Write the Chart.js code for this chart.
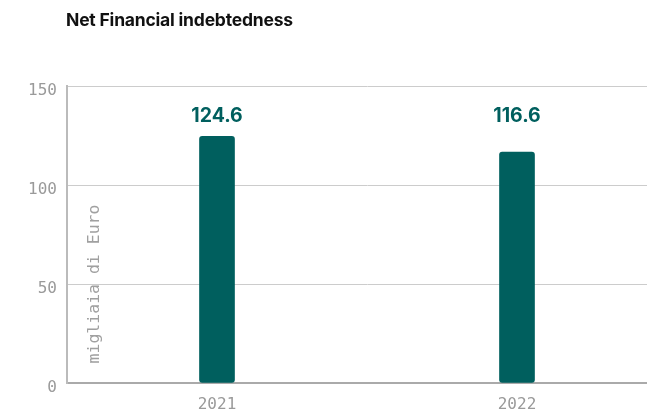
<!DOCTYPE html>
<html lang="en">
<head>
    <meta charset="UTF-8">
    <title>Net Financial indebtedness</title>
    <style>
        body{
            margin: 0;
            overflow: hidden;
            background: #fff;
        }
        #wrap{
            position: relative;
            width: 647px;
            height: 412px;
            overflow: hidden;
        }
        h1{
            position: absolute;
            left: 66px;
            top: 9px;
            margin: 0;
            font-family: Inter, sans-serif;
            font-weight: 700;
            font-size: 17.5px;
            color: #111;
            letter-spacing: -0.2px;
        }
    </style>
</head>
<body>
<div id="wrap">
    <h1>Net Financial indebtedness</h1>
    <!-- canvas is a bit wider than the window: the plot runs past the right edge like the original -->
    <canvas id="chart" width="667" height="412"></canvas>
</div>
<script src="https://cdn.jsdelivr.net/npm/chart.js"></script>
<script>
    const years = ['2021', '2022'];
    const debt = [124.6, 116.6];
    const yTicks = [0, 50, 100, 150];
    const axisTitle = 'migliaia di Euro';

    const teal = '#005f5e';
    const mono = '"DejaVu Sans Mono", monospace';

    // value labels above the bars + axis title drawn inside the plot
    const extraText = {
        id: 'extraText',
        afterDatasetsDraw(chart) {
            const ctx = chart.ctx;
            const y = chart.scales.y;
            const meta = chart.getDatasetMeta(0);
            ctx.save();
            ctx.fillStyle = teal;
            ctx.font = '700 19.5px Inter, sans-serif';
            ctx.textAlign = 'center';
            ctx.textBaseline = 'middle';
            meta.data.forEach((bar, i) => {
                ctx.fillText(debt[i].toFixed(1), bar.x, y.getPixelForValue(135));
            });
            ctx.translate(chart.chartArea.left + 28, y.getPixelForValue(50));
            ctx.rotate(-Math.PI / 2);
            ctx.fillStyle = '#a0a0a0';
            ctx.font = '16.5px ' + mono;
            ctx.fillText(axisTitle, 0, 0);
            ctx.restore();
        }
    };

    new Chart(document.getElementById('chart'), {
        type: 'bar',
        data: {
            labels: years,
            datasets: [{
                data: debt,
                backgroundColor: teal,
                barThickness: 35,
                borderRadius: 3,
                borderSkipped: false
            }]
        },
        options: {
            responsive: false,
            animation: false,
            layout: {padding: {top: 86, right: 0, left: 0, bottom: 0}},
            plugins: {legend: {display: false}, tooltip: {enabled: false}},
            scales: {
                x: {
                    afterFit(s) { s.height = 29; },
                    grid: {display: false},
                    border: {color: '#aaaaaa', width: 2},
                    ticks: {color: '#9a9a9a', font: {family: mono, size: 16}, padding: 4}
                },
                y: {
                    min: 0,
                    max: 150,
                    afterFit(s) { s.width = 67; },
                    afterBuildTicks(s) { s.ticks = yTicks.map(v => ({value: v})); },
                    grid: {color: '#cccccc', drawTicks: false},
                    border: {color: '#bbbbbb', width: 2},
                    ticks: {color: '#9a9a9a', font: {family: mono, size: 16}, padding: 10, labelOffset: 5}
                }
            }
        },
        plugins: [extraText]
    });
</script>
</body>
</html>
